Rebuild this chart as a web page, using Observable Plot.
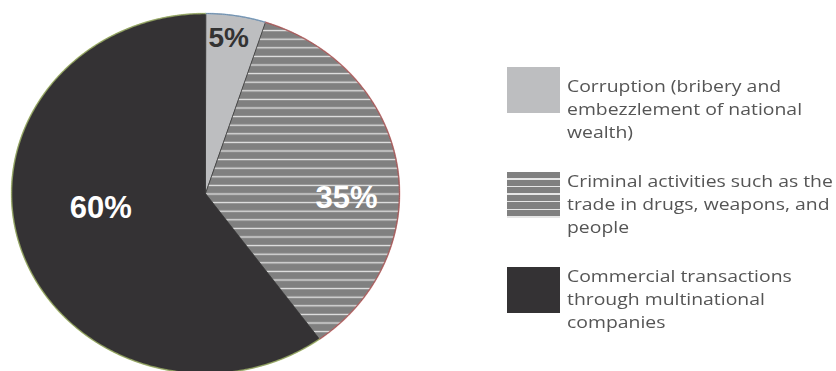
<!DOCTYPE html>
<html><head><meta charset="utf-8">
<script src="https://cdn.jsdelivr.net/npm/d3@7"></script>
<script src="https://cdn.jsdelivr.net/npm/@observablehq/plot@0.6"></script>
<style>
body{margin:0;background:#fff;}
#wrap{position:relative;width:836px;height:371px;overflow:hidden;background:#fff;}
#chart{position:absolute;left:0;top:0;}
.sw{position:absolute;left:507px;width:53px;height:46px;}
.lab{position:absolute;left:567px;font-family:"Open Sans";font-size:17px;line-height:23px;color:#555;white-space:nowrap;transform:scaleX(1.14);transform-origin:0 0;filter:blur(0.35px);}
</style></head>
<body><div id="wrap"><div id="chart"></div></div>
<script>
const categories = [
  ["Corruption (bribery and", "embezzlement of national", "wealth)"],
  ["Criminal activities such as the", "trade in drugs, weapons, and", "people"],
  ["Commercial transactions", "through multinational", "companies"]
];
const shares = [5, 35, 60];
const shareLabels = ["5%", "35%", "60%"];
const sliceColors = ["#bdbec0", "url(#hatch)", "#343234"];
const edgeColors = ["#7fb0e0", "#d06060", "#b8d070"];
const labelColors = ["#333333", "#ffffff", "#ffffff"];

const arcs = d3.pie().sort(null).value(d => d)(shares);
function arcPoints(a) {
  const n = Math.max(2, Math.ceil((a.endAngle - a.startAngle) / 0.01));
  return d3.range(n + 1).map(i => {
    const t = a.startAngle + (a.endAngle - a.startAngle) * i / n;
    return {x: Math.sin(t), y: Math.cos(t)};
  });
}
const labelR = 0.6;
const labelOffsets = [[5, -49], [26, 21], [6, -19]];
const labelSizes = [28, 31, 31];

const marks = [];
arcs.forEach((a, i) => {
  const rim = arcPoints(a);
  marks.push(Plot.line([{x: 0, y: 0}, ...rim], {x: "x", y: "y", curve: "linear-closed", fill: sliceColors[i], stroke: "#3a3a3a", strokeWidth: 0.8}));
});
arcs.forEach((a, i) => {
  marks.push(Plot.line(arcPoints(a), {x: "x", y: "y", stroke: edgeColors[i], strokeWidth: 1.6, strokeOpacity: 0.6}));
});
arcs.forEach((a, i) => {
  const mid = (a.startAngle + a.endAngle) / 2;
  marks.push(Plot.text([{x: Math.sin(mid) * labelR, y: Math.cos(mid) * labelR, t: shareLabels[i]}], {
    x: "x", y: "y", text: "t", fill: labelColors[i], fontSize: labelSizes[i], fontWeight: "bold",
    fontFamily: "Liberation Sans, Arial, sans-serif", textAnchor: "middle", lineAnchor: "middle",
    dx: labelOffsets[i][0], dy: labelOffsets[i][1]
  }));
});

const svg = Plot.plot({
  width: 420, height: 371, margin: 0,
  x: {domain: [-1, 1], range: [11, 399], axis: null},
  y: {domain: [-1, 1], range: [373, 13], axis: null},
  marks
});
const defs = d3.create("svg:defs");
const pat = defs.append("pattern").attr("id", "hatch").attr("patternUnits", "userSpaceOnUse")
  .attr("width", 20).attr("height", 8.6);
pat.append("rect").attr("width", 20).attr("height", 8.6).attr("fill", "#808080");
pat.append("line").attr("x1", 0).attr("x2", 20).attr("y1", 4.3).attr("y2", 4.3).attr("stroke", "#e6e6e6").attr("stroke-width", 1.3);
svg.insertBefore(defs.node(), svg.firstChild);
document.getElementById("chart").appendChild(svg);

const wrap = document.getElementById("wrap");
const swTops = [67, 172, 267];
const textTops = [74, 169, 264];
const swBgs = [
  "#bdbec0",
  "repeating-linear-gradient(to bottom, #808080 0px, #808080 6.2px, #e6e6e6 6.2px, #e6e6e6 7.6px)",
  "#343234"
];
categories.forEach((lines, i) => {
  const sw = document.createElement("div");
  sw.className = "sw"; sw.style.top = swTops[i] + "px"; sw.style.background = swBgs[i];
  wrap.appendChild(sw);
  const lab = document.createElement("div");
  lab.className = "lab"; lab.style.top = textTops[i] + "px";
  lab.innerHTML = lines.join("<br>");
  wrap.appendChild(lab);
});
</script>
</body></html>
